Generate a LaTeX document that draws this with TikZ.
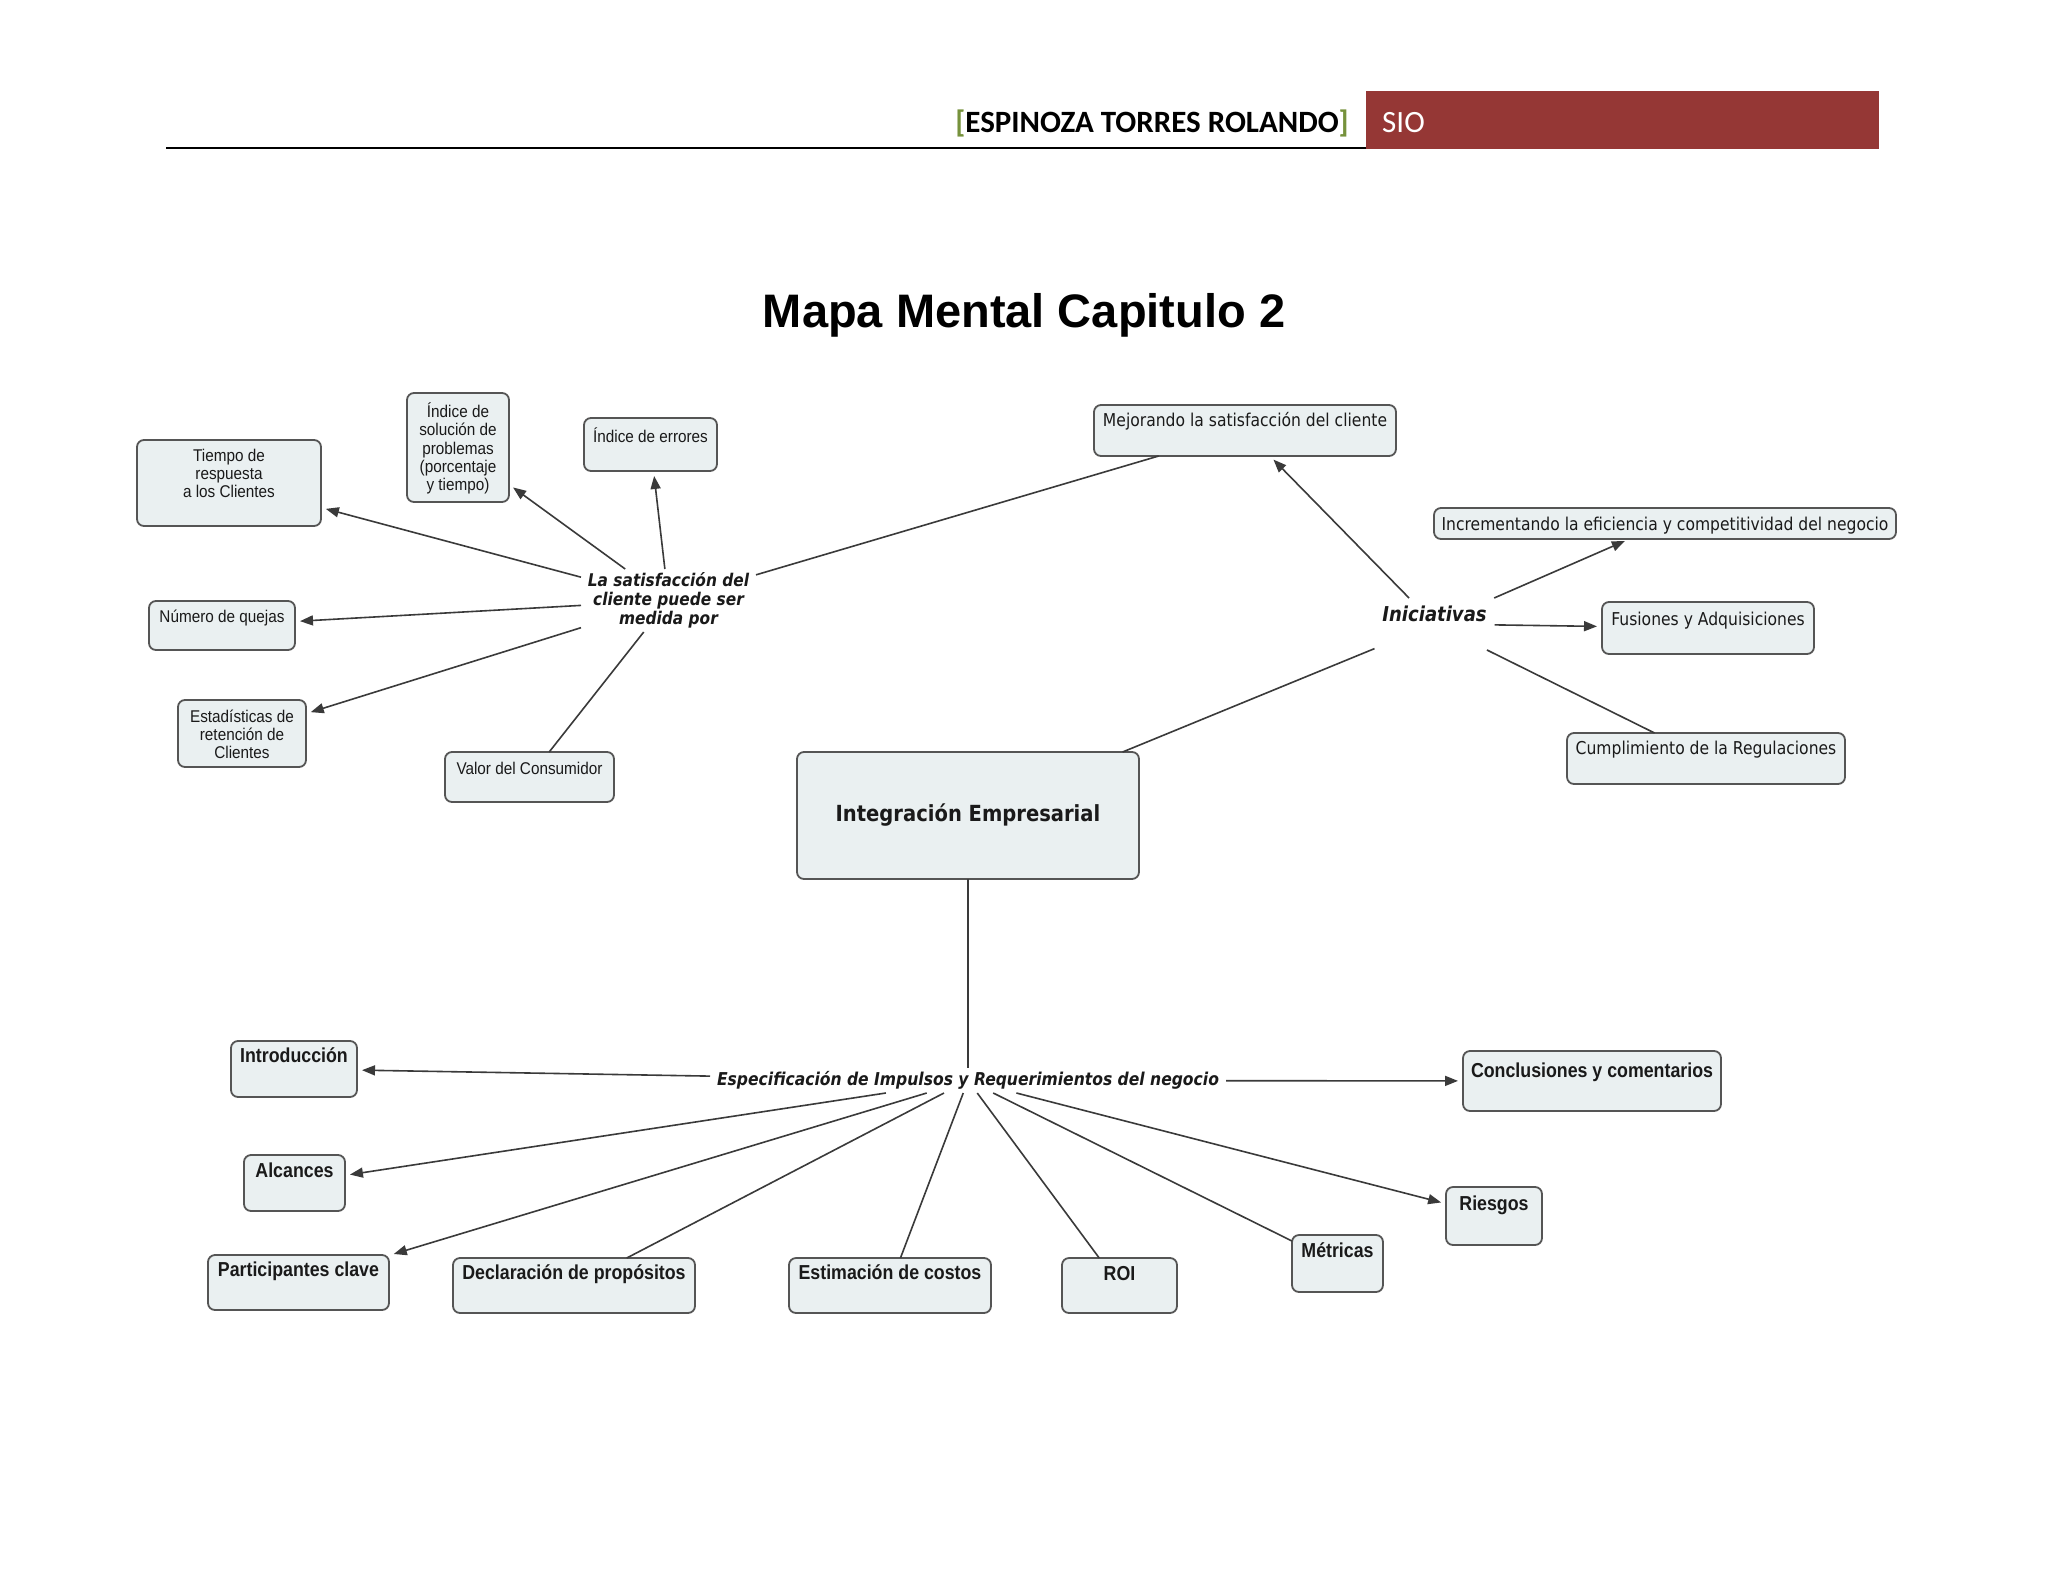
\documentclass[tikz,border=0pt]{standalone}
\usepackage{fontspec}
\setmainfont{Liberation Sans}
\newfontfamily\an[FakeStretch=0.9]{Liberation Sans}
\newfontfamily\bn[FakeStretch=0.88]{Liberation Sans}
\newfontfamily\vd[FakeStretch=0.88]{DejaVu Sans}
\newfontfamily\calfont{Carlito}
\usetikzlibrary{arrows.meta}
\definecolor{boxfill}{HTML}{EAF0F1}
\definecolor{boxborder}{HTML}{555555}
\definecolor{linecol}{HTML}{3A3A3A}
\definecolor{sioRed}{HTML}{953735}
\definecolor{brgreen}{HTML}{76923C}
\definecolor{txt}{HTML}{1A1A1A}
\newcommand{\fs}[2]{\fontsize{#1}{#2}\selectfont}
\newcommand{\cmnode}[6]{\node[cbox] (#1) at (#2) {\parbox[c][#4pt][t]{#3pt}{\centering\vspace*{#5pt}#6\par}};}
\tikzset{
  cbox/.style={draw=boxborder, fill=boxfill, rounded corners=7pt, line width=1.8pt, inner sep=0pt, outer sep=0pt, text=txt},
  lbl/.style={inner sep=0pt, outer sep=0pt, align=center, text=txt},
  conn/.style={draw=linecol, line width=1.6pt},
  arr/.style={conn, -{Triangle[length=13pt,width=10pt]}, shorten >=5pt},
}
\begin{document}
\begin{tikzpicture}[x=1pt,y=-1pt]
\fill[white] (0,0) rectangle (2048,1582);
\useasboundingbox (0,0) rectangle (2048,1582);
% header
\node[fill=sioRed, minimum width=513pt, minimum height=58pt, anchor=north west, inner sep=0pt] (sio) at (1366,91) {};
\node[anchor=base west, text=white, font=\calfont\fs{31}{31}, inner sep=0pt] (siotext) at (1382,132) {SIO};
\node[anchor=base east, font=\calfont\bfseries\fs{31}{31}, inner sep=0pt] (author) at (1349,132) {\textcolor{brgreen}{[}ESPINOZA TORRES ROLANDO\textcolor{brgreen}{]}};
\draw[line width=2pt] (166,148) -- (1366,148);
% title
\node[anchor=base, font=\bfseries\fs{47}{47}, inner sep=0pt] (title) at (1024,327) {Mapa Mental Capitulo 2};
% left cluster
\cmnode{tiempo}{229,483}{184}{86}{9.5}{\an\fs{17}{18}Tiempo de\\respuesta\\a los Clientes}
\cmnode{indsol}{458,447.5}{102}{109}{9.5}{\an\fs{17}{18.4}Índice de\\solución de\\problemas\\(porcentaje\\y tiempo)}
\cmnode{inderr}{650.5,444.5}{133}{53}{9.5}{\an\fs{17}{18}Índice de errores}
\cmnode{quejas}{222,625.5}{146}{49}{8.5}{\an\fs{17}{18}Número de quejas}
\cmnode{estad}{242,733.5}{128}{67}{9.5}{\an\fs{17}{18}Estadísticas de\\retención de\\Clientes}
\cmnode{valor}{529.5,777}{169}{50}{10}{\an\fs{17}{18}Valor del Consumidor}
\node[lbl, minimum width=175pt, minimum height=63pt, font=\vd\bfseries\itshape\fs{17.5}{19}] (sat) at (668.5,600.5) {La satisfacción del\\cliente puede ser\\medida por};
% right cluster
\cmnode{mejor}{1245,430.5}{302}{51}{7.5}{\vd\fs{17.7}{20}Mejorando la satisfacción del cliente}
\cmnode{incr}{1665,523.5}{462}{31}{9}{\vd\fs{17.7}{20}Incrementando la eficiencia y competitividad del negocio}
\cmnode{fusion}{1708,628}{212}{52}{10.5}{\vd\fs{17.7}{20}Fusiones y Adquisiciones}
\cmnode{cumpl}{1706,758.5}{278}{51}{8.5}{\vd\fs{17.7}{20}Cumplimiento de la Regulaciones}
\node[lbl] (inic) at (1434.5,624) {\parbox[c][52pt][t]{120pt}{\centering\vspace*{7.5pt}\vd\bfseries\itshape\fs{20.5}{22}Iniciativas\par}};
% center
\node[cbox, minimum width=342pt, minimum height=127pt, font=\vd\bfseries\fs{22.2}{24}] (integ) at (968,815.5) {Integración Empresarial};
\node[lbl, minimum width=516pt, minimum height=25pt, font=\vd\bfseries\itshape\fs{17.7}{19}] (espec) at (968,1080.5) {Especificación de Impulsos y Requerimientos del negocio};
% bottom cluster
\cmnode{intro}{294,1069}{126}{56}{7}{\bn\bfseries\fs{20.2}{22}Introducción}
\cmnode{alcan}{294.5,1183}{101}{56}{8}{\bn\bfseries\fs{20.2}{22}Alcances}
\cmnode{partic}{298.5,1282.5}{181}{55}{7}{\bn\bfseries\fs{20.2}{22}Participantes clave}
\cmnode{declar}{574,1285.5}{242}{55}{7}{\bn\bfseries\fs{20.2}{22}Declaración de propósitos}
\cmnode{estim}{890,1285.5}{202}{55}{7}{\bn\bfseries\fs{20.2}{22}Estimación de costos}
\cmnode{roi}{1119.5,1285.5}{115}{55}{8}{\bn\bfseries\fs{20.2}{22}ROI}
\cmnode{metric}{1337.5,1263.5}{91}{57}{8}{\bn\bfseries\fs{20.2}{22}Métricas}
\cmnode{riesg}{1494,1216}{96}{58}{9}{\bn\bfseries\fs{20.2}{22}Riesgos}
\cmnode{concl}{1592,1081}{258}{60}{12}{\bn\bfseries\fs{20.2}{22}Conclusiones y comentarios}
% connectors
\draw[arr] (sat) -- (tiempo);
\draw[arr] (sat) -- (indsol);
\draw[arr] (sat) -- (inderr);
\draw[arr] (sat) -- (quejas);
\draw[arr] (sat) -- (estad);
\draw[conn] (sat) -- (valor);
\draw[conn] (sat) -- (mejor);
\draw[arr] (inic) -- (mejor);
\draw[arr] (inic) -- (incr);
\draw[arr] (inic) -- (fusion);
\draw[conn] (inic) -- (cumpl);
\draw[conn] (inic) -- (integ);
\draw[conn] (integ) -- (espec);
\draw[arr] (espec) -- (intro);
\draw[arr] (espec) -- (concl);
\draw[arr] (espec) -- (alcan);
\draw[arr] (espec) -- (partic);
\draw[conn] (espec) -- (declar);
\draw[conn] (espec) -- (estim);
\draw[conn] (espec) -- (roi);
\draw[conn] (espec) -- (metric);
\draw[arr] (espec) -- (riesg);
\end{tikzpicture}
\end{document}
